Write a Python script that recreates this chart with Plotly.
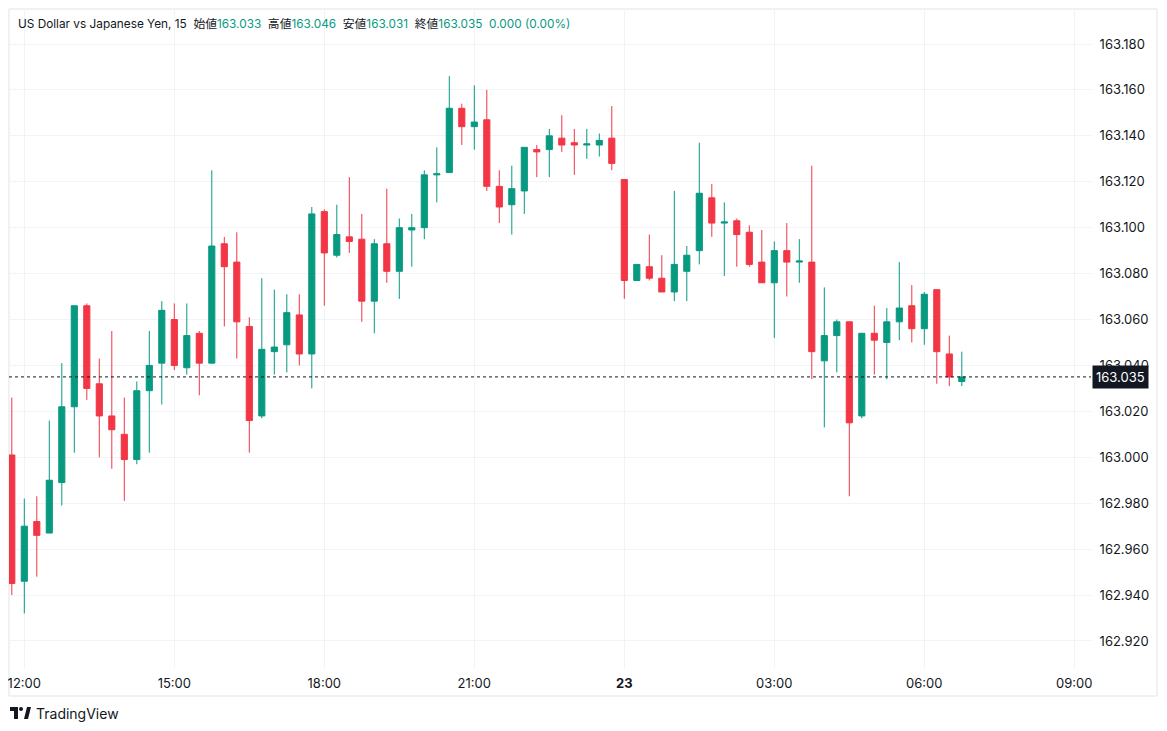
import pandas as pd
import plotly.graph_objects as go

# 15-minute candles, 22nd 11:45 -> 23rd 06:45
open_ = [163.001, 162.946, 162.972, 162.967, 162.989, 163.022, 163.066, 163.032, 163.018, 163.010,
         162.999, 163.029, 163.041, 163.060, 163.039, 163.054, 163.041, 163.093, 163.085, 163.057,
         163.018, 163.046, 163.049, 163.062, 163.045, 163.107, 163.088, 163.096, 163.095, 163.068,
         163.093, 163.081, 163.099, 163.100, 163.123, 163.124, 163.152, 163.144, 163.147, 163.118,
         163.110, 163.116, 163.134, 163.134, 163.139, 163.137, 163.136, 163.136, 163.139, 163.121,
         163.077, 163.083, 163.078, 163.072, 163.081, 163.090, 163.113, 163.102, 163.103, 163.098,
         163.085, 163.076, 163.090, 163.085, 163.085, 163.042, 163.053, 163.059, 163.018, 163.054,
         163.050, 163.059, 163.066, 163.056, 163.073, 163.045, 163.033]
high = [163.026, 162.982, 162.983, 163.016, 163.041, 163.066, 163.067, 163.043, 163.055, 163.026,
        163.033, 163.055, 163.068, 163.067, 163.067, 163.055, 163.125, 163.096, 163.098, 163.061,
        163.078, 163.073, 163.071, 163.071, 163.109, 163.108, 163.110, 163.122, 163.106, 163.095,
        163.117, 163.104, 163.106, 163.125, 163.135, 163.166, 163.154, 163.162, 163.160, 163.125,
        163.127, 163.135, 163.136, 163.143, 163.149, 163.143, 163.143, 163.141, 163.153, 163.121,
        163.084, 163.097, 163.088, 163.116, 163.092, 163.137, 163.119, 163.111, 163.104, 163.101,
        163.099, 163.094, 163.102, 163.095, 163.127, 163.074, 163.060, 163.059, 163.054, 163.066,
        163.065, 163.085, 163.075, 163.072, 163.073, 163.053, 163.046]
low = [162.940, 162.932, 162.948, 162.967, 162.979, 163.002, 163.025, 163.000, 162.995, 162.981,
       162.997, 163.002, 163.023, 163.038, 163.036, 163.027, 163.041, 163.057, 163.043, 163.002,
       163.017, 163.036, 163.037, 163.040, 163.030, 163.066, 163.087, 163.089, 163.059, 163.054,
       163.076, 163.069, 163.083, 163.095, 163.111, 163.124, 163.136, 163.134, 163.116, 163.102,
       163.097, 163.106, 163.122, 163.122, 163.133, 163.123, 163.130, 163.131, 163.125, 163.069,
       163.077, 163.077, 163.072, 163.068, 163.068, 163.084, 163.096, 163.079, 163.083, 163.083,
       163.076, 163.052, 163.070, 163.076, 163.034, 163.013, 163.037, 162.983, 163.017, 163.036,
       163.034, 163.051, 163.050, 163.049, 163.032, 163.031, 163.031]
close = [162.945, 162.970, 162.966, 162.990, 163.022, 163.066, 163.030, 163.018, 163.012, 162.999,
         163.029, 163.040, 163.064, 163.040, 163.053, 163.041, 163.092, 163.083, 163.059, 163.016,
         163.047, 163.048, 163.063, 163.045, 163.106, 163.089, 163.097, 163.094, 163.068, 163.093,
         163.081, 163.100, 163.100, 163.123, 163.1235, 163.152, 163.144, 163.146, 163.118, 163.109,
         163.117, 163.135, 163.133, 163.140, 163.136, 163.136, 163.1365, 163.138, 163.128, 163.077,
         163.084, 163.078, 163.072, 163.084, 163.088, 163.115, 163.102, 163.1025, 163.097, 163.084,
         163.076, 163.090, 163.085, 163.0855, 163.046, 163.053, 163.059, 163.015, 163.054, 163.051,
         163.059, 163.065, 163.056, 163.071, 163.046, 163.035, 163.035]

times = pd.date_range("2025-05-22 11:45", periods=len(close), freq="15min")

tick_times = ["2025-05-22 12:00", "2025-05-22 15:00", "2025-05-22 18:00", "2025-05-22 21:00",
              "2025-05-23 00:00", "2025-05-23 03:00", "2025-05-23 06:00", "2025-05-23 09:00"]
tick_text = ["12:00", "15:00", "18:00", "21:00", "<b>23</b>", "03:00", "06:00", "09:00"]
price_ticks = [162.92, 162.94, 162.96, 162.98, 163.00, 163.02, 163.04, 163.06,
               163.08, 163.10, 163.12, 163.14, 163.16, 163.18]

last_price = 163.035
header_vals = {"始値": "163.033", "高値": "163.046", "安値": "163.031", "終値": "163.035"}
change_txt = "0.000 (0.00%)"

UP = "#089981"
DOWN = "#F23645"
TXT = "#131722"
GRID = "#f0f3fa"

# page body has an 8px margin, so the figure is drawn 8px in from the window corner
OFF = 8
W, H = 1167 - 2 * OFF, 731 - 2 * OFF
# plot area, in window pixels
L, R, T, B = 9, 1091, 9, 668


def px(x):
    return (x - L) / (R - L)


def py(y):
    return (B - y) / (B - T)


fig = go.Figure()
fig.add_trace(go.Candlestick(
    x=times, open=open_, high=high, low=low, close=close,
    increasing=dict(line=dict(color=UP, width=1), fillcolor=UP),
    decreasing=dict(line=dict(color=DOWN, width=1), fillcolor=DOWN),
    whiskerwidth=0, hoverinfo="skip",
))

fig.add_hline(y=last_price, line=dict(color=TXT, width=1, dash="dot"))

# header line
sp = "\u00a0"
head = "US Dollar vs Japanese Yen, 15" + sp * 2
for k, v in header_vals.items():
    head += f"{k}<span style='color:{UP}'>{v}</span>" + sp * 2
head += f"<span style='color:{UP}'>{change_txt}</span>"
fig.add_annotation(x=px(16), y=py(24), xref="paper", yref="paper", text=head,
                   showarrow=False, xanchor="left", yanchor="middle",
                   font=dict(size=11.8, color=TXT))

# last price label
fig.add_annotation(x=px(1092), y=last_price, xref="paper", yref="y", text="163.035",
                   showarrow=False, xanchor="left", yanchor="middle", bgcolor=TXT,
                   borderpad=3, font=dict(size=13, color="white"))

# frame
fig.add_shape(type="rect", xref="paper", yref="paper", x0=px(9), x1=px(1157),
              y0=py(696), y1=py(9), line=dict(color="#e0e3eb", width=1), layer="below")

# TradingView logo + text
logo = [
    f"M {px(10)},{py(707)} L {px(18)},{py(707)} L {px(18)},{py(719)} L {px(14)},{py(719)} "
    f"L {px(14)},{py(711)} L {px(10)},{py(711)} Z",
    f"M {px(24)},{py(719)} L {px(27)},{py(707)} L {px(31)},{py(707)} L {px(28)},{py(719)} Z",
]
for p in logo:
    fig.add_shape(type="path", xref="paper", yref="paper", path=p,
                  fillcolor=TXT, line=dict(width=0))
fig.add_shape(type="circle", xref="paper", yref="paper", x0=px(19), x1=px(23),
              y0=py(711), y1=py(707), fillcolor=TXT, line=dict(width=0))
fig.add_annotation(x=px(34), y=py(713), xref="paper", yref="paper", text="TradingView",
                   showarrow=False, xanchor="left", yanchor="middle",
                   font=dict(size=14, color=TXT))

x_left = pd.Timestamp("2025-05-22 12:00") - pd.Timedelta(hours=(24.3 - L) / 50)
x_right = pd.Timestamp("2025-05-22 12:00") + pd.Timedelta(hours=(R - 24.3) / 50)
y_low = 163.180 - (B - 44) / 2296
y_high = 163.180 + (44 - T) / 2296

fig.update_layout(
    width=W, height=H,
    margin=dict(l=L - OFF, r=W - (R - OFF), t=T - OFF, b=H - (B - OFF)),
    paper_bgcolor="white", plot_bgcolor="white",
    showlegend=False,
    font=dict(family="Inter, Noto Sans CJK JP, sans-serif", size=13, color=TXT),
    xaxis=dict(
        range=[x_left, x_right], rangeslider=dict(visible=False),
        tickvals=tick_times, ticktext=tick_text, ticklabeloverflow="allow",
        showgrid=True, gridcolor=GRID, zeroline=False, showline=False,
        ticks="outside", ticklen=3, tickcolor="rgba(0,0,0,0)",
        tickfont=dict(size=13, color=TXT),
    ),
    yaxis=dict(
        side="right", range=[y_low, y_high],
        tickvals=price_ticks, tickformat=".3f",
        showgrid=True, gridcolor=GRID, zeroline=False, showline=False,
        ticks="outside", ticklen=5, tickcolor="rgba(0,0,0,0)",
        tickfont=dict(size=13, color=TXT),
    ),
)

fig.write_html("out.html")
